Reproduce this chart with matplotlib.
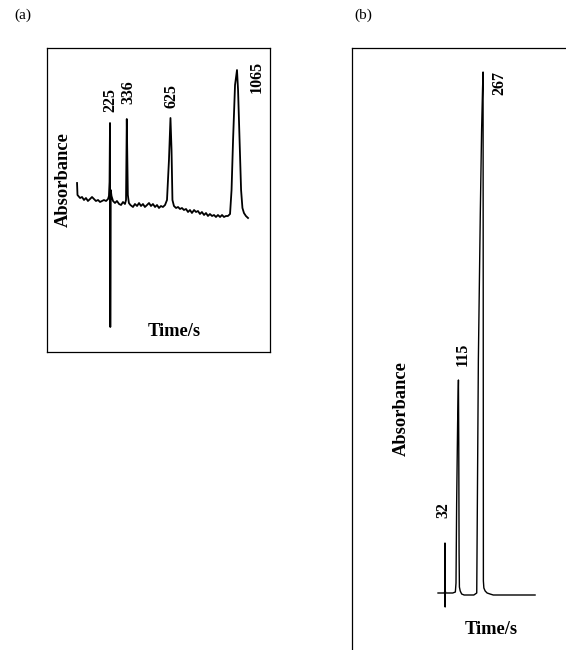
import matplotlib
matplotlib.use("Agg")
import matplotlib.pyplot as plt
import numpy as np

# Panel (a): flow injection trace, time in s, absorbance in arbitrary units
time_a = [7, 10, 27, 40, 53, 66, 79, 93, 106, 119, 132, 146, 159, 172, 185, 199,
          212, 218, 222, 225, 227, 230, 235, 245, 258, 271, 285, 298, 311, 324, 331,
          336, 343, 350, 360, 377, 390, 404, 417, 430, 443, 456, 470, 483, 496, 509,
          523, 536, 549, 562, 575, 589, 602, 615, 625, 632, 638, 648, 662, 675, 688,
          701, 714, 728, 741, 754, 767, 781, 794, 807, 820, 833, 847, 860, 873, 886,
          900, 913, 926, 939, 953, 966, 979, 992, 1005, 1019, 1029, 1039, 1052, 1065,
          1072, 1082, 1092, 1101, 1111, 1124, 1138]
absorb_a = [14, 2, -1, 0, -3, -1, -4, -2, 0, -2, -4, -3, -5, -4, -3, -4,
            -2, 1, 15, 74, -130, 7, 1, -4, -6, -4, -7, -8, -5, -7, -3,
            78, 2, -6, -8, -10, -7, -9, -6, -9, -7, -10, -8, -6, -9, -7,
            -10, -8, -11, -9, -10, -8, -3, 37, 79, 47, -3, -9, -11, -10, -12,
            -11, -13, -12, -15, -13, -16, -13, -15, -14, -17, -15, -18, -16, -19, -17,
            -19, -18, -20, -18, -20, -18, -20, -19, -19, -17, 7, 57, 112, 127,
            107, 57, 7, -11, -16, -19, -21]
peak_labels_a = ["225", "336", "625", "1065"]
label_pos_a = [(225, 97), (344, 105), (635, 101), (1194, 120)]

# Panel (b)
time_b = [-11, 10, 28, 31, 32, 33, 34, 36, 50, 80, 96, 100, 104, 110, 115, 117,
          119, 121, 126, 135, 150, 180, 210, 228, 238, 250, 258, 264, 267, 268,
          269, 272, 280, 292, 310, 330, 380, 450, 520, 588]
absorb_b = [0, 0, 0, 2, 50, -14, 2, 0, 0, 0, 1, 10, 90, 170, 213, 150,
            40, 6, 2, -1, -2, -2, -2, 0, 233, 380, 463, 505, 521, 300,
            12, 5, 2, 0, -1, -2, -2, -2, -2, -2]
peak_labels_b = ["32", "115", "267"]
label_pos_b = [(20, 83), (143, 239), (365, 510)]

W, H = 566, 650
fig = plt.figure(figsize=(W / 100, H / 100), dpi=100)
serif = "Liberation Serif"

def px_axes(x0, y0, x1, y1):
    # axes box given in pixel coords of the figure (origin top-left)
    return fig.add_axes([x0 / W, 1 - y1 / H, (x1 - x0) / W, (y1 - y0) / H])

# ---- (a)
ax_a = px_axes(46.5, 48, 269.5, 352)
ax_a.plot(time_a, absorb_a, color="black", lw=1.3)
ax_a.set_xlim(-195, 1280)
ax_a.set_ylim(-155, 149)
ax_a.set_xticks([])
ax_a.set_yticks([])
for s in ax_a.spines.values():
    s.set_linewidth(0.9)
for lab, (tx, ty) in zip(peak_labels_a, label_pos_a):
    ax_a.text(tx, ty, lab, rotation=90, ha="center", va="center",
              family=serif, fontweight="bold", fontsize=11.5)
ax_a.text(-86, 17, "Absorbance", rotation=90, ha="center", va="center",
          family=serif, fontweight="bold", fontsize=13.3)
ax_a.text(648, -134, "Time/s", ha="center", va="center",
          family=serif, fontweight="bold", fontsize=13.3)

# ---- (b) box runs off the page on the right and bottom
ax_b = px_axes(352, 48, 566, 650)
ax_b.plot(time_b, absorb_b, color="black", lw=1.0)
ax_b.set_xlim(-542, 779)
ax_b.set_ylim(-57, 545)
ax_b.set_xticks([])
ax_b.set_yticks([])
ax_b.spines["right"].set_visible(False)
ax_b.spines["bottom"].set_visible(False)
ax_b.spines["left"].set_linewidth(0.9)
ax_b.spines["top"].set_linewidth(0.9)
for lab, (tx, ty) in zip(peak_labels_b, label_pos_b):
    ax_b.text(tx, ty, lab, rotation=90, ha="center", va="center",
              family=serif, fontweight="bold", fontsize=11.5)
ax_b.text(-236, 184, "Absorbance", rotation=90, ha="center", va="center",
          family=serif, fontweight="bold", fontsize=13.3)
ax_b.text(316, -37, "Time/s", ha="center", va="center",
          family=serif, fontweight="bold", fontsize=13.3)

# panel letters
fig.text(23 / W, 1 - 15 / H, "(a)", ha="center", va="center", family=serif, fontsize=11)
fig.text(363 / W, 1 - 15 / H, "(b)", ha="center", va="center", family=serif, fontsize=11)

fig.savefig("out.png", dpi=100)
